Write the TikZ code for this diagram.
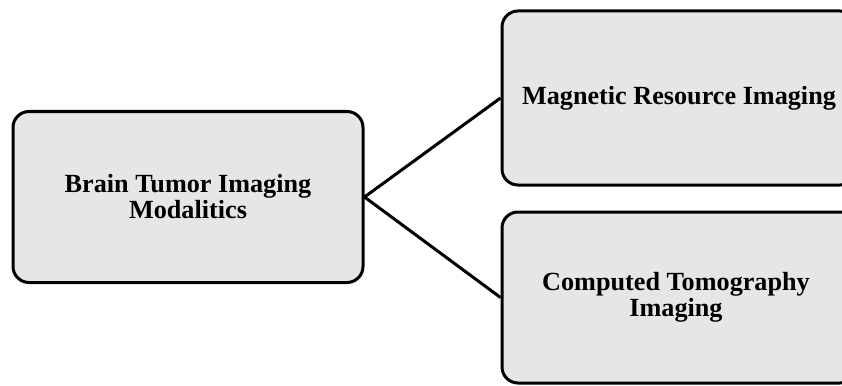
\documentclass[tikz,border=0pt]{standalone}
\usepackage{fontspec}
\setmainfont{Liberation Serif}
\begin{document}
\begin{tikzpicture}[x=1pt,y=-1pt,
  modbox/.style={draw=black, line width=3pt, fill=boxgray, rounded corners=16pt,
    rectangle, align=center, inner sep=0pt,
    font=\fontsize{26.2}{26}\selectfont\bfseries},
  link/.style={draw=black, line width=3pt}]
\definecolor{boxgray}{HTML}{E6E6E6}
\useasboundingbox (0,0) rectangle (842,385);
\node[modbox, minimum width=350pt, minimum height=171pt] (root) at (188,197)
  {Brain Tumor Imaging\\Modalitics};
% the two right-hand boxes run past the right margin
\node[modbox, minimum width=354pt, minimum height=174pt] (mri) at (679,98)
  {Magnetic Resource Imaging};
\node[modbox, minimum width=354pt, minimum height=171pt] (ct) at (679,297.5)
  {\hspace*{-6pt}Computed Tomography\\\hspace*{-6pt}Imaging};
\draw[link] (root.east) -- (mri.west);
\draw[link] (root.east) -- (ct.west);
\end{tikzpicture}
\end{document}
